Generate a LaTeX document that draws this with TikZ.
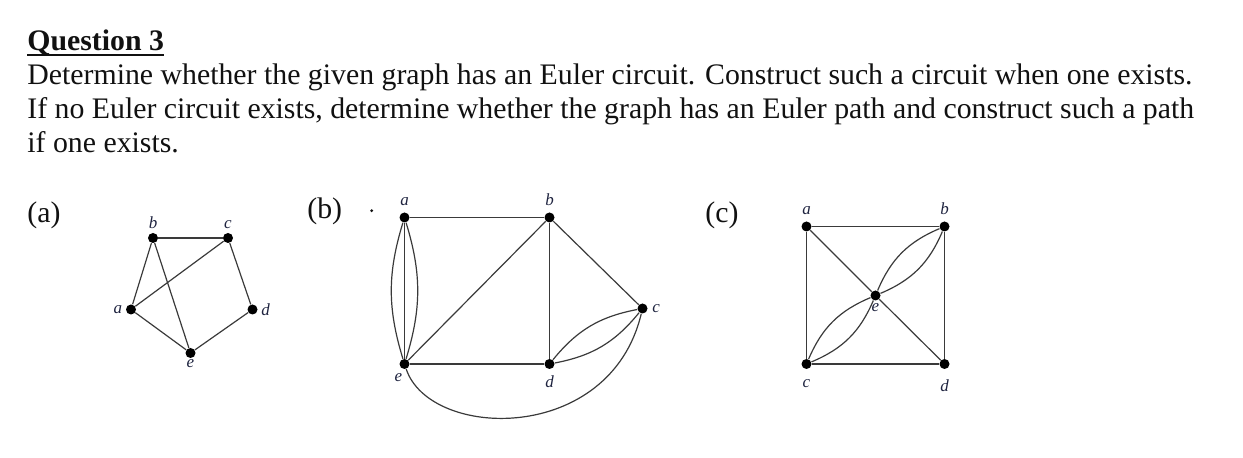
\documentclass[tikz,border=0pt]{standalone}
\usepackage{fontspec}
\setmainfont{Liberation Serif}
\usepackage{tikz}
\usepackage{xcolor}
\usetikzlibrary{positioning}
\definecolor{qink}{HTML}{111111}
\definecolor{qedge}{HTML}{3A3A3A}
\definecolor{qlab}{HTML}{1F2440}
\tikzset{
  qtext/.style={anchor=base west, inner sep=0pt, text=qink,
    font=\fontsize{14.9}{17}\selectfont},
  qvtx/.style={circle, fill=black, inner sep=0pt, minimum size=5pt},
  qlabel/.style={text=qlab, inner sep=0pt, font=\fontsize{8.5}{10}\selectfont\itshape},
  qedge/.style={draw=qedge, line width=0.6pt}
}

\begin{document}
\begin{tikzpicture}[x=0.5pt, y=-0.5pt]
\useasboundingbox (0,0) rectangle (1243,458);
\node[qtext, font=\fontsize{14.9}{17}\selectfont\bfseries] (title) at (27,50.5) {Question 3};
\draw[qink, line width=1.1pt] ([yshift=-2.1pt]title.base west) -- ([yshift=-2.1pt]title.base east);
\node[qtext] (line1) at (27,85) {Determine whether the given graph has an Euler circuit. Construct such a circuit when one exists.};
\node[qtext] (line2) at (27,119) {If no Euler circuit exists, determine whether the graph has an Euler path and construct such a path};
\node[qtext] (line3) at (27,152.5) {if one exists.};
\node[qtext] (tagA) at (27,223) {(a)};
\node[qtext] (tagB) at (307,219) {(b)};
\node[qtext] (tagC) at (705,223) {(c)};
\fill[qink] (371.7,210.7) circle (0.8pt);

\node[qvtx, label={[qlabel, label distance=2pt]above:b}] (ab) at (153,238) {};
\node[qvtx, label={[qlabel, label distance=2pt]above:c}] (ac) at (228,238) {};
\node[qvtx, label={[qlabel, label distance=1.5pt]left:a}] (aa) at (131,309.5) {};
\node[qvtx, label={[qlabel, label distance=1.5pt]right:d}] (ad) at (252.5,309.5) {};
\node[qvtx, label={[qlabel, label distance=0.5pt]below:e}] (ae) at (190.5,353) {};
\draw[qedge] (ab) -- (ac);
\draw[qedge] (ab) -- (aa);
\draw[qedge] (ab) -- (ae);
\draw[qedge] (ac) -- (aa);
\draw[qedge] (ac) -- (ad);
\draw[qedge] (aa) -- (ae);
\draw[qedge] (ad) -- (ae);

\node[qvtx, label={[qlabel, label distance=3pt]above:a}] (ba) at (404.5,217.5) {};
\node[qvtx, label={[qlabel, label distance=3pt]above:b}] (bb) at (549.5,217.5) {};
\node[qvtx, label={[qlabel, label distance=2pt]right:c}] (bc) at (642.5,308.5) {};
\node[qvtx, label={[qlabel, label distance=3pt]below:d}] (bd) at (549.5,364) {};
\node[qvtx, label={[qlabel, label distance=2pt, xshift=-3pt]below:e}] (be) at (404.5,364) {};
\draw[qedge] (ba) -- (bb);
\draw[qedge] (ba) -- (be);
\draw[qedge] (ba) to[bend left=17] (be);
\draw[qedge] (ba) to[bend right=17] (be);
\draw[qedge] (bb) -- (be);
\draw[qedge] (bb) -- (bd);
\draw[qedge] (bb) -- (bc);
\draw[qedge] (be) -- (bd);
\draw[qedge] (bd) to[bend left=20] (bc);
\draw[qedge] (bd) to[bend right=20] (bc);
\draw[qedge] (be) .. controls (430,440) and (610,445) .. (bc);

\node[qvtx, label={[qlabel, label distance=3pt]above:a}] (ca) at (806.5,226.5) {};
\node[qvtx, label={[qlabel, label distance=3pt]above:b}] (cb) at (944.5,226.5) {};
\node[qvtx, label={[qlabel, label distance=5pt]below:c}] (cc) at (806.5,364) {};
\node[qvtx, label={[qlabel, label distance=5pt]below:d}] (cd) at (944.5,364) {};
\node[qvtx, label={[qlabel, label distance=1pt]below:e}] (ce) at (875.5,295.5) {};
\draw[qedge] (ca) -- (cb);
\draw[qedge] (ca) -- (cc);
\draw[qedge] (cb) -- (cd);
\draw[qedge] (cc) -- (cd);
\draw[qedge] (ca) -- (ce);
\draw[qedge] (ce) -- (cd);
\draw[qedge] (ce) to[bend left=22] (cb);
\draw[qedge] (ce) to[bend right=22] (cb);
\draw[qedge] (cc) to[bend left=22] (ce);
\draw[qedge] (cc) to[bend right=22] (ce);
\end{tikzpicture}
\end{document}
